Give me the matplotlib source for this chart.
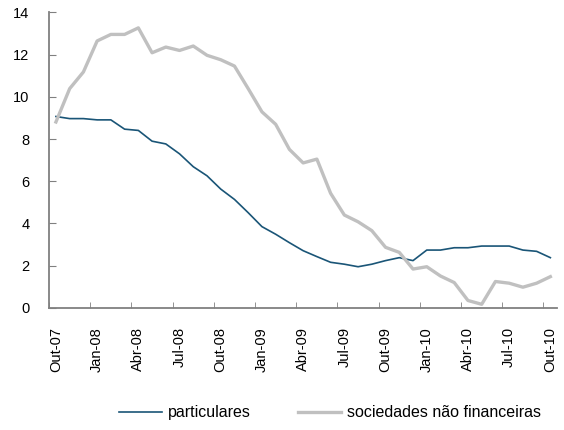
import matplotlib
matplotlib.use('Agg')
import matplotlib.pyplot as plt
import numpy as np

plt.rcParams['font.family'] = ['Liberation Sans', 'DejaVu Sans']

# meses de Out-07 a Out-10
meses = ['Out-07', 'Nov-07', 'Dez-07', 'Jan-08', 'Fev-08', 'Mar-08', 'Abr-08', 'Mai-08', 'Jun-08',
         'Jul-08', 'Ago-08', 'Set-08', 'Out-08', 'Nov-08', 'Dez-08', 'Jan-09', 'Fev-09', 'Mar-09',
         'Abr-09', 'Mai-09', 'Jun-09', 'Jul-09', 'Ago-09', 'Set-09', 'Out-09', 'Nov-09', 'Dez-09',
         'Jan-10', 'Fev-10', 'Mar-10', 'Abr-10', 'Mai-10', 'Jun-10', 'Jul-10', 'Ago-10', 'Set-10',
         'Out-10']

particulares = [9.07, 8.97, 8.97, 8.91, 8.91, 8.47, 8.41, 7.90, 7.77, 7.30, 6.69, 6.26, 5.63,
                5.14, 4.51, 3.85, 3.49, 3.09, 2.71, 2.43, 2.16, 2.07, 1.95, 2.07, 2.24, 2.38,
                2.24, 2.74, 2.74, 2.85, 2.85, 2.93, 2.93, 2.93, 2.74, 2.68, 2.38]

sociedades = [8.81, 10.39, 11.18, 12.65, 12.96, 12.96, 13.27, 12.09, 12.36, 12.20, 12.41, 11.97,
              11.76, 11.46, 10.39, 9.29, 8.70, 7.51, 6.87, 7.05, 5.43, 4.40, 4.08, 3.66, 2.87,
              2.63, 1.84, 1.95, 1.51, 1.20, 0.35, 0.17, 1.25, 1.17, 0.98, 1.17, 1.48]

x = np.arange(len(meses))

fig = plt.figure(figsize=(5.64, 4.30), dpi=100)
ax = fig.add_axes([0.087, 0.284, 0.901, 0.687])

ax.plot(x, particulares, color='#1a5577', lw=1.2, label='particulares')
ax.plot(x, sociedades, color='#c0c0c0', lw=2.4, label='sociedades não financeiras')

ax.set_xlim(-0.5, len(meses) - 0.5)
ax.set_ylim(0, 14)
ax.set_yticks(range(0, 15, 2))

# rótulos a cada 3 meses, marcas entre categorias
ax.set_xticks(x[::3])
ax.set_xticklabels(meses[::3], rotation=90, fontsize=10.5)
ax.set_xticks(np.arange(-0.5, len(meses), 3), minor=True)
ax.tick_params(axis='x', which='major', length=0, pad=14)
ax.tick_params(axis='x', which='minor', direction='in', length=4, color='#808080')
ax.tick_params(axis='y', direction='in', length=5, color='#808080', labelsize=10.5, pad=14)

for s in ['top', 'right']:
    ax.spines[s].set_visible(False)
for s in ['left', 'bottom']:
    ax.spines[s].set_color('#808080')
    ax.spines[s].set_linewidth(1.3)

fig.legend(loc='center', bbox_to_anchor=(0.585, 0.04), ncol=2, frameon=False,
           fontsize=11.5, handlelength=2.7, columnspacing=2.9, handletextpad=0.4)

fig.savefig('out.png', dpi=100)
